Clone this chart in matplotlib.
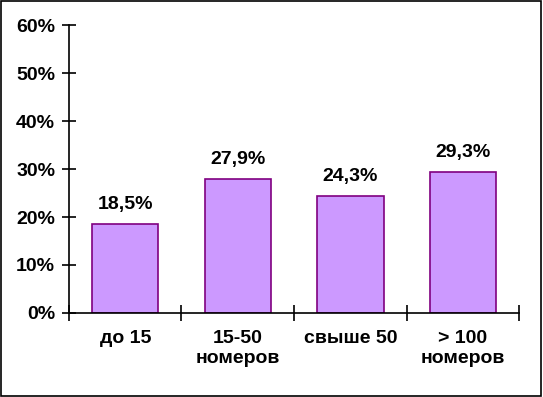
import matplotlib.pyplot as plt
from matplotlib.patches import Rectangle

categories = ["до 15", "15-50\nномеров", "свыше 50", "> 100\nномеров"]
values = [18.5, 27.9, 24.3, 29.3]
value_labels = ["18,5%", "27,9%", "24,3%", "29,3%"]
yticks = [0, 10, 20, 30, 40, 50, 60]

plt.rcParams['font.family'] = ['Liberation Sans', 'DejaVu Sans']
plt.rcParams['font.weight'] = 'bold'

fig = plt.figure(figsize=(5.43, 3.97), dpi=100)
ax = fig.add_axes([0.127, 0.2116, 0.829, 0.7254])

x = list(range(len(categories)))
ax.bar(x, values, width=0.59, color='#CC99FF', edgecolor='#800080', linewidth=1.2)
for xi, v, lab in zip(x, values, value_labels):
    ax.annotate(lab, (xi, v), xytext=(0, 8), textcoords='offset points',
                ha='center', va='bottom', fontsize=14, fontweight='bold')

ax.set_xlim(-0.5, len(categories) - 0.5)
ax.set_ylim(0, 60)
ax.set_yticks(yticks)
ax.set_yticklabels([f"{t}%" for t in yticks], fontsize=14, fontweight='bold')
ax.set_xticks([i - 0.5 for i in range(len(categories) + 1)], minor=False)
ax.set_xticklabels([])
ax.set_xticks(x, minor=True)
ax.set_xticklabels(categories, minor=True, fontsize=14, fontweight='bold', linespacing=1.25)
ax.tick_params(axis='x', which='minor', length=0, pad=12)
ax.tick_params(axis='x', which='major', direction='inout', length=12, width=1.2)
ax.tick_params(axis='y', direction='inout', length=10, width=1.2, pad=5)

for s in ['top', 'right']:
    ax.spines[s].set_visible(False)
for s in ['left', 'bottom']:
    ax.spines[s].set_linewidth(1.2)

fig.patches.append(Rectangle((0.002, 0.003), 0.995, 0.994, transform=fig.transFigure,
                             fill=False, edgecolor='black', linewidth=1.2))

fig.savefig('out.png', dpi=100)
